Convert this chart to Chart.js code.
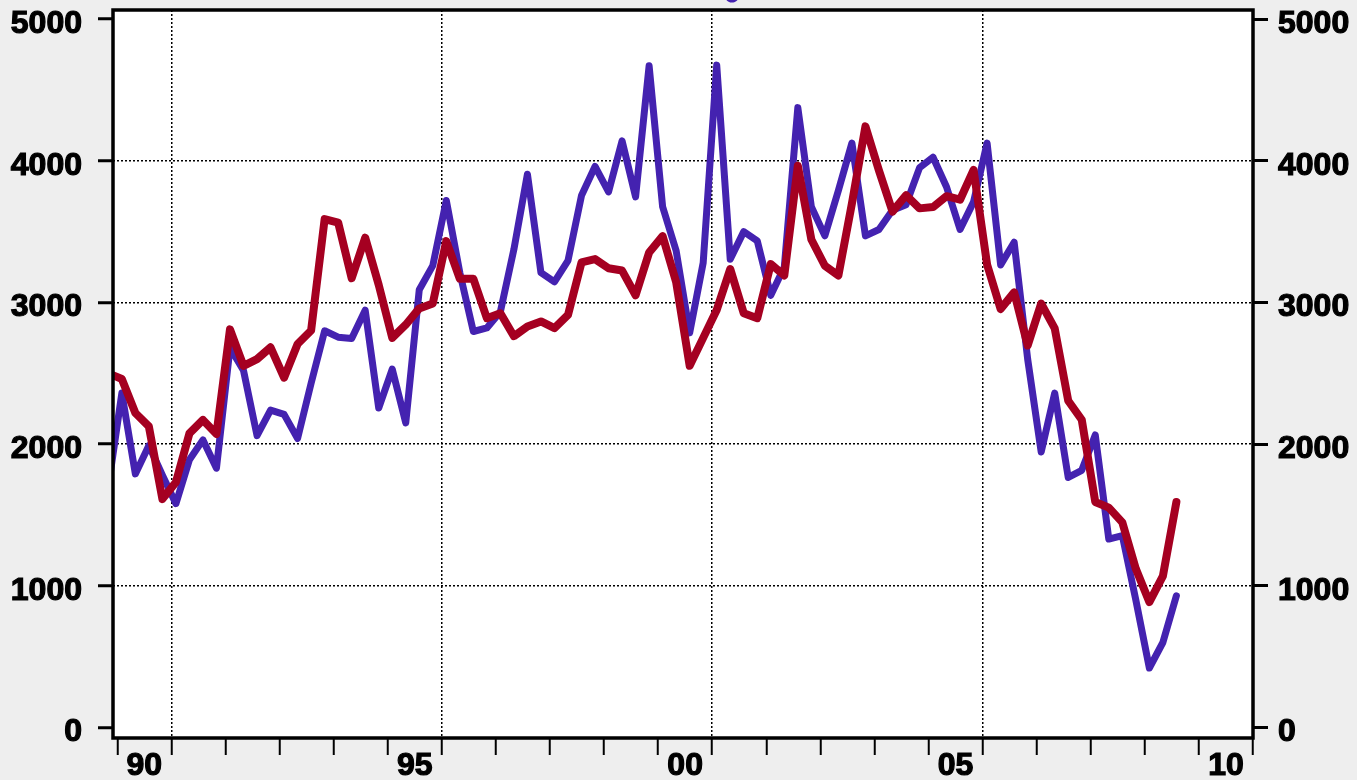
<!DOCTYPE html>
<html>
<head>
<meta charset="utf-8">
<script src="https://cdn.jsdelivr.net/npm/chart.js@4.4.0/dist/chart.umd.min.js"></script>
<style>
    html, body { margin: 0; padding: 0; background: #eeeeee; }
    canvas { display: block; }
</style>
</head>
<body>
<canvas id="quarterChart" width="1357" height="780"></canvas>
<script>
// quarterly figures, first one is 1989 Q4 (only a stub of it is inside the frame)
const firstYear = 1989;
const firstQuarter = 4;

const blueValues = [
    1700, 2360, 1790, 1990, 1780, 1580, 1890, 2030, 1830, 2680,
    2520, 2060, 2240, 2210, 2040, 2430, 2800, 2755, 2745, 2945,
    2255, 2530, 2150, 3090, 3260, 3720, 3210, 2795, 2820, 2935,
    3375, 3905, 3210, 3145, 3295, 3755, 3960, 3780, 4140, 3745,
    4670, 3675, 3365, 2785, 3280, 4675, 3305, 3500, 3435, 3050,
    3250, 4375, 3675, 3470, 3790, 4125, 3470, 3515, 3650, 3690,
    3950, 4025, 3815, 3515, 3710, 4125, 3265, 3425, 2600, 1945,
    2360, 1765, 1815, 2065, 1330, 1355, 900, 420, 600, 930
];

const redValues = [
    2500, 2460, 2220, 2125, 1612, 1731, 2076, 2171, 2071, 2810,
    2552, 2600, 2683, 2469, 2707, 2802, 3588, 3564, 3171, 3457,
    3124, 2750, 2843, 2958, 2993, 3433, 3167, 3167, 2889, 2924,
    2762, 2831, 2866, 2819, 2912, 3282, 3306, 3241, 3225, 3051,
    3352, 3468, 3144, 2553, 2750, 2947, 3236, 2924, 2889, 3271,
    3190, 3965, 3444, 3259, 3190, 3699, 4243, 3931, 3641, 3757,
    3664, 3673, 3750, 3725, 3935, 3267, 2953, 3071, 2696, 2992,
    2817, 2306, 2172, 1592, 1552, 1448, 1120, 885, 1068, 1592
];

const yTicks = [0, 1000, 2000, 3000, 4000, 5000];
const yGridValues = [1000, 2000, 3000, 4000];
const labelYears = [1990, 1995, 2000, 2005, 2010];
const yearLabels = ['90', '95', '00', '05', '10'];
const gridYears = [1991, 1996, 2001, 2006];

const quarters = [];
for (let i = 0; i < redValues.length; i++) {
    const q = firstQuarter - 1 + i;
    quarters.push((firstYear + Math.floor(q / 4)) + ' Q' + (q % 4 + 1));
}

// points sit at the middle month of each quarter
function quarterToX(label){
    const year = parseInt(label);
    const q = parseInt(label.split('Q')[1]);
    return year + (q - 1) / 4 + 1 / 12;
}

const xTickValues = [];
for (let y = 1990; y <= 2011; y++) {
    xTickValues.push(y);
}
labelYears.forEach(y => xTickValues.push(y + 0.5));
xTickValues.sort((a, b) => a - b);

const boldFont = { family: "'Liberation Sans', Arial, sans-serif", size: 32, weight: 'bold' };
const clear = 'rgba(0,0,0,0)';

const plotFrame = {
    id: 'plotFrame',
    beforeDraw(chart){
        const a = chart.chartArea;
        const ctx = chart.ctx;
        ctx.save();
        ctx.fillStyle = '#ffffff';
        ctx.fillRect(a.left, a.top, a.right - a.left, a.bottom - a.top);
        ctx.restore();
    },
    afterDatasetsDraw(chart){
        const a = chart.chartArea;
        const ctx = chart.ctx;
        ctx.save();
        ctx.strokeStyle = '#000000';
        ctx.lineWidth = 3.5;
        ctx.strokeRect(a.left, a.top, a.right - a.left, a.bottom - a.top);
        // bottom of a cut-off glyph above the frame
        ctx.strokeStyle = '#4422b0';
        ctx.lineWidth = 3;
        ctx.beginPath();
        ctx.arc(732, -5, 6, 0.15 * Math.PI, 0.85 * Math.PI);
        ctx.stroke();
        ctx.restore();
    }
};

function toPoints(values){
    return values.map((v, i) => ({ x: quarterToX(quarters[i]), y: v }));
}

function noPadding(scale){
    scale.paddingTop = 0;
    scale.paddingBottom = 0;
    scale.paddingLeft = 0;
    scale.paddingRight = 0;
}

const yMin = -74;
const yMax = 5064;

const chartConfig = {
    type: 'line',
    data: {
        datasets: [
            {
                label: 'red',
                data: toPoints(redValues),
                borderColor: '#a50021',
                borderWidth: 8,
                pointRadius: 0,
                tension: 0,
                borderJoinStyle: 'round',
                borderCapStyle: 'round',
                clip: 0
            },
            {
                label: 'blue',
                data: toPoints(blueValues),
                borderColor: '#4422b0',
                borderWidth: 7,
                pointRadius: 0,
                tension: 0,
                borderJoinStyle: 'round',
                borderCapStyle: 'round',
                clip: 0
            }
        ]
    },
    options: {
        responsive: false,
        devicePixelRatio: 1,
        animation: false,
        layout: { padding: { top: 10, left: 0, right: 0, bottom: 0 } },
        plugins: {
            legend: { display: false },
            tooltip: { enabled: false }
        },
        scales: {
            x: {
                type: 'linear',
                position: 'bottom',
                min: 1989.92,
                max: 2011,
                afterBuildTicks: function(scale){
                    scale.ticks = xTickValues.map(v => ({ value: v }));
                },
                afterFit: function(scale){
                    scale.height = 42;
                    noPadding(scale);
                },
                grid: {
                    color: ctx => (ctx.tick && gridYears.includes(ctx.tick.value)) ? '#000000' : clear,
                    lineWidth: 1.5,
                    drawTicks: true,
                    tickLength: 17,
                    tickWidth: 2,
                    tickColor: ctx => (ctx.tick && Number.isInteger(ctx.tick.value)) ? '#000000' : clear
                },
                border: { display: false, dash: [2, 2] },
                ticks: {
                    autoSkip: false,
                    maxRotation: 0,
                    padding: -8,
                    color: '#000000',
                    textStrokeColor: '#000000',
                    textStrokeWidth: 1.2,
                    font: boldFont,
                    callback: function(value){
                        const idx = labelYears.indexOf(value - 0.5);
                        return idx >= 0 ? yearLabels[idx] : '';
                    }
                }
            },
            y: {
                position: 'left',
                min: yMin,
                max: yMax,
                afterBuildTicks: function(scale){
                    scale.ticks = yTicks.map(v => ({ value: v }));
                },
                afterFit: function(scale){
                    scale.width = 113;
                    noPadding(scale);
                },
                grid: {
                    color: ctx => (ctx.tick && yGridValues.includes(ctx.tick.value)) ? '#000000' : clear,
                    lineWidth: 1.5,
                    drawTicks: true,
                    tickLength: 15,
                    tickWidth: 3,
                    tickColor: '#000000'
                },
                border: { display: false, dash: [2, 2] },
                ticks: {
                    padding: 16,
                    labelOffset: 5,
                    color: '#000000',
                    textStrokeColor: '#000000',
                    textStrokeWidth: 1.2,
                    font: boldFont,
                    callback: value => String(value)
                }
            },
            y2: {
                position: 'right',
                min: yMin,
                max: yMax,
                afterBuildTicks: function(scale){
                    scale.ticks = yTicks.map(v => ({ value: v }));
                },
                afterFit: function(scale){
                    scale.width = 104;
                    noPadding(scale);
                },
                grid: {
                    drawOnChartArea: false,
                    drawTicks: true,
                    tickLength: 15,
                    tickWidth: 3,
                    tickColor: '#000000'
                },
                border: { display: false },
                ticks: {
                    padding: 10,
                    labelOffset: 5,
                    color: '#000000',
                    textStrokeColor: '#000000',
                    textStrokeWidth: 1.2,
                    font: boldFont,
                    callback: value => String(value)
                }
            }
        }
    },
    plugins: [plotFrame]
};

const quarterChart = new Chart(document.getElementById('quarterChart'), chartConfig);
</script>
</body>
</html>
